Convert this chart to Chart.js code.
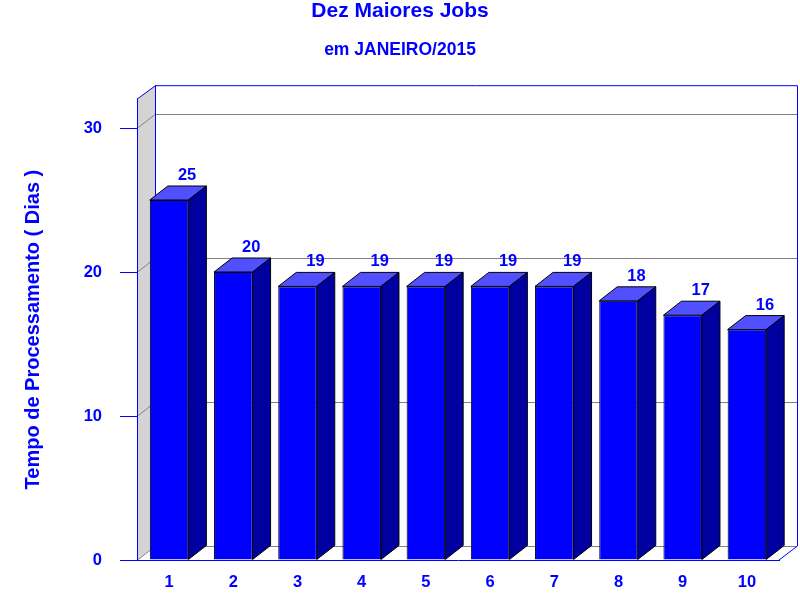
<!DOCTYPE html>
<html>
<head>
<meta charset="utf-8">
<script src="https://cdn.jsdelivr.net/npm/chart.js@4"></script>
<style>
html,body{margin:0;padding:0;background:#fff;}
#wrap{width:800px;height:600px;}
</style>
</head>
<body>
<div id="wrap"><canvas id="c" width="800" height="600"></canvas></div>
<script>
const categories = ['1','2','3','4','5','6','7','8','9','10'];
const values = [25, 20, 19, 19, 19, 19, 19, 18, 17, 16];
const yTicks = [0, 10, 20, 30];
const titleText = 'Dez Maiores Jobs';
const subtitleText = 'em JANEIRO/2015';
const yTitleText = 'Tempo de Processamento ( Dias )';

const FONT = '"Liberation Sans", Arial, sans-serif';
const BLUE = '#0000ff';
const TOP_COLOR = '#5050ff';
const SIDE_COLOR = '#0000a0';
const DX = 18, DY = 14;

const threeD = {
  id: 'threeD',
  beforeDraw(chart) {
    const {ctx, chartArea: {left, right, top, bottom}, scales: {y}} = chart;
    ctx.save();
    ctx.fillStyle = '#ffffff';
    ctx.fillRect(left + DX, top - DY, right - left, bottom - top);
    ctx.beginPath();
    ctx.moveTo(left, top);
    ctx.lineTo(left + DX, top - DY);
    ctx.lineTo(left + DX, bottom - DY);
    ctx.lineTo(left, bottom);
    ctx.closePath();
    ctx.fillStyle = '#d4d4d4';
    ctx.fill();
    ctx.lineWidth = 1;
    ctx.strokeStyle = '#808080';
    y.ticks.forEach(t => {
      const py = Math.round(y.getPixelForValue(t.value)) + 0.5;
      ctx.beginPath();
      ctx.moveTo(left, py);
      ctx.lineTo(left + DX, py - DY);
      ctx.lineTo(right + DX, py - DY);
      ctx.stroke();
    });
    ctx.strokeStyle = BLUE;
    ctx.beginPath();
    ctx.moveTo(left, top);
    ctx.lineTo(left + DX + 0.5, top - DY + 0.5);
    ctx.lineTo(right + DX + 0.5, top - DY + 0.5);
    ctx.lineTo(right + DX + 0.5, bottom - DY);
    ctx.lineTo(right, bottom);
    ctx.stroke();
    ctx.beginPath();
    ctx.moveTo(left + DX + 0.5, top - DY);
    ctx.lineTo(left + DX + 0.5, bottom - DY);
    ctx.stroke();
    ctx.restore();
  },
  afterDatasetsDraw(chart) {
    const ctx = chart.ctx;
    const meta = chart.getDatasetMeta(0);
    ctx.save();
    ctx.lineWidth = 1;
    ctx.strokeStyle = '#000000';
    meta.data.forEach((bar, i) => {
      const {x, y, base, width} = bar.getProps(['x', 'y', 'base', 'width'], true);
      const l = x - width / 2, r = x + width / 2;
      ctx.beginPath();
      ctx.moveTo(l, y);
      ctx.lineTo(l + DX, y - DY);
      ctx.lineTo(r + DX, y - DY);
      ctx.lineTo(r, y);
      ctx.closePath();
      ctx.fillStyle = TOP_COLOR;
      ctx.fill();
      ctx.stroke();
      ctx.beginPath();
      ctx.moveTo(r, y);
      ctx.lineTo(r + DX, y - DY);
      ctx.lineTo(r + DX, base - DY);
      ctx.lineTo(r, base);
      ctx.closePath();
      ctx.fillStyle = SIDE_COLOR;
      ctx.fill();
      ctx.stroke();
      ctx.fillStyle = BLUE;
      ctx.font = 'bold 16.5px ' + FONT;
      ctx.textAlign = 'center';
      ctx.textBaseline = 'alphabetic';
      ctx.fillText(String(values[i]), x + DX, y - 20);
    });
    ctx.restore();
  }
};

new Chart(document.getElementById('c'), {
  type: 'bar',
  data: {
    labels: categories,
    datasets: [{
      data: values,
      backgroundColor: BLUE,
      borderColor: '#000000',
      borderWidth: 1,
      barPercentage: 0.6,
      categoryPercentage: 1.0
    }]
  },
  options: {
    responsive: false,
    animation: false,
    devicePixelRatio: 1,
    layout: {padding: {top: 0, left: 21, right: 21, bottom: 0}},
    plugins: {
      legend: {display: false},
      tooltip: {enabled: false},
      title: {
        display: true, text: titleText, color: BLUE,
        font: {family: FONT, size: 21, weight: 'bold', lineHeight: 1.1},
        padding: {top: 0, bottom: 17}
      },
      subtitle: {
        display: true, text: subtitleText, color: BLUE,
        font: {family: FONT, size: 17.5, weight: 'bold', lineHeight: 1.2},
        padding: {top: 0, bottom: 38.1}
      }
    },
    scales: {
      x: {
        grid: {display: false, drawTicks: false},
        border: {display: true, color: BLUE, width: 1},
        ticks: {color: BLUE, font: {family: FONT, size: 16.5, weight: 'bold'}, padding: 13, maxRotation: 0},
        afterFit(s) { s.height = 40; }
      },
      y: {
        min: 0, max: 32,
        grid: {drawOnChartArea: false, color: BLUE, tickColor: BLUE, tickLength: 17},
        border: {display: true, color: BLUE, width: 1},
        ticks: {color: BLUE, font: {family: FONT, size: 16.5, weight: 'bold'}, padding: 18, stepSize: 10, includeBounds: false},
        afterBuildTicks(s) { s.ticks = yTicks.map(v => ({value: v})); },
        title: {
          display: true, text: yTitleText, color: BLUE,
          font: {family: FONT, size: 20, weight: 'bold'},
          padding: {top: 0, bottom: 0}
        },
        afterFit(s) { s.width = 116; }
      }
    }
  },
  plugins: [threeD]
});
</script>
</body>
</html>
